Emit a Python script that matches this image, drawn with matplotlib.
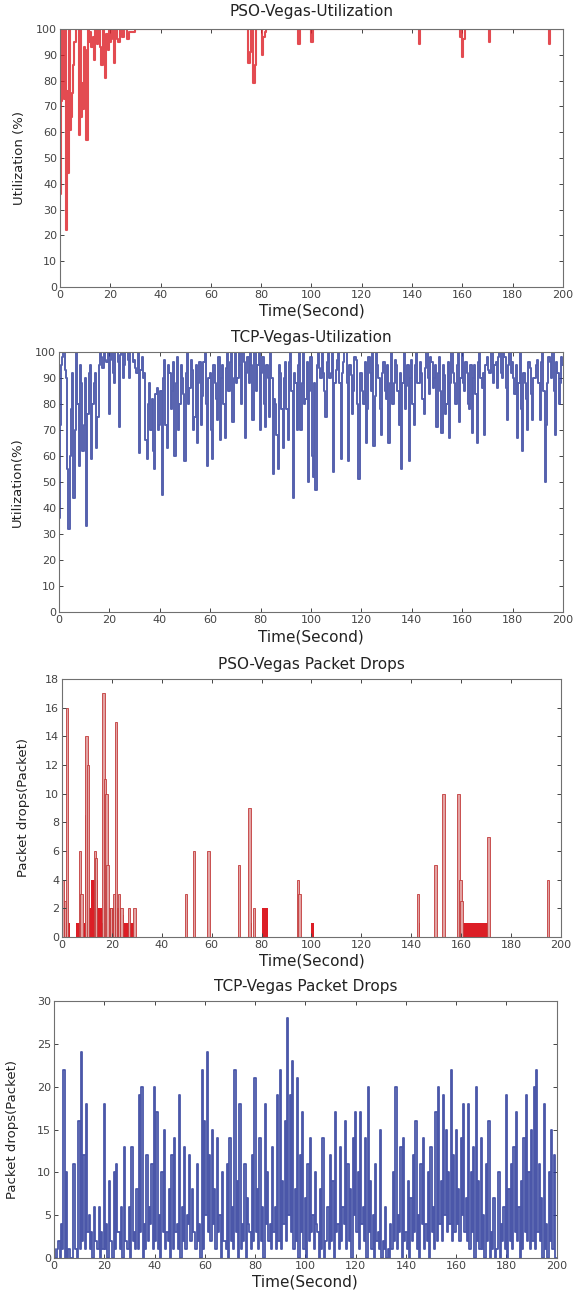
import numpy as np
import matplotlib
matplotlib.use("Agg")
import matplotlib.pyplot as plt

# ---- data ----

# PSO-Vegas utilization: mostly 100 %, dips only at start and a few spots
pso_util_t = [0, 0.3, 0.6, 1.0, 1.3, 1.7, 2.1, 2.5, 2.9, 3.2, 3.6, 4.0, 4.4, 4.9,
              5.4, 6.0, 6.8, 7.3, 7.7, 8.1, 8.4, 8.8, 9.2, 9.7, 10.2, 10.7, 11.2,
              11.7, 12.2, 12.7, 13.2, 13.8, 14.3, 14.8, 15.3, 15.8, 16.3, 16.7,
              17.2, 17.7, 18.2, 18.7, 19.2, 19.7, 20.2, 20.7, 21.2, 21.8, 22.3,
              22.8, 23.5, 24.0, 25, 26, 27.2, 28, 29.3, 30,
              74.5, 75.2, 75.7, 76.2, 77.1, 77.7, 78.3, 80.0, 80.6, 81.2, 81.8, 82.3,
              94.6, 95.1, 95.6, 99.8, 100.2, 100.7,
              142.6, 143.0, 143.5, 158.9, 159.3, 159.7, 160.0, 160.4, 160.8, 161.2,
              170.6, 171.0, 171.4, 194.5, 194.9, 195.3, 200]
pso_util_v = [58, 36, 72, 100, 88, 73, 100, 22, 76, 44, 100, 61, 66, 75,
              86, 95, 100, 100, 59, 100, 66, 79, 69, 93, 92, 57, 100,
              95, 99, 93, 97, 88, 100, 94, 96, 100, 93, 86,
              100, 91, 81, 98, 92, 100, 95, 100, 96, 87, 100,
              96, 95, 100, 97, 100, 96, 99, 99, 100,
              100, 87, 91, 100, 79, 86, 100, 100, 90, 97, 99, 100,
              100, 94, 100, 100, 95, 100,
              100, 94, 100, 100, 97, 100, 89, 96, 96, 100,
              100, 95, 100, 100, 94, 100, 100]

# TCP-Vegas utilization, value at each whole second (0..200)
tcp_util = [36, 95, 100, 90, 32, 78, 44, 100, 56, 88,
            72, 33, 92, 59, 88, 63, 95, 98, 100, 96,
            76, 100, 88, 100, 71, 100, 95, 100, 90, 100,
            97, 92, 61, 98, 92, 59, 88, 82, 55, 86,
            72, 45, 97, 63, 92, 85, 60, 98, 80, 90,
            58, 100, 86, 93, 75, 65, 96, 83, 100, 56,
            92, 59, 88, 74, 66, 95, 67, 100, 96, 73,
            100, 90, 95, 100, 67, 98, 100, 74, 100, 95,
            70, 98, 71, 90, 100, 53, 80, 55, 92, 63,
            96, 66, 100, 44, 88, 95, 70, 100, 82, 50,
            98, 52, 47, 100, 90, 92, 75, 100, 92, 54,
            93, 100, 59, 96, 100, 58, 91, 85, 97, 51,
            92, 80, 65, 98, 85, 64, 100, 90, 68, 96,
            82, 65, 100, 88, 95, 72, 55, 100, 87, 58,
            97, 72, 100, 88, 92, 76, 100, 84, 96, 90,
            71, 98, 69, 91, 80, 67, 100, 88, 95, 73,
            100, 85, 92, 78, 69, 95, 65, 100, 86, 68,
            98, 92, 100, 95, 86, 100, 90, 98, 74, 100,
            96, 84, 67, 100, 62, 88, 70, 94, 74, 90,
            97, 74, 100, 50, 88, 96, 100, 68, 92, 88, 95]
# ... and half a second later (0.5..199.5)
tcp_util_half = [72, 98, 93, 55, 60, 92, 70, 80, 95, 62,
                 90, 76, 95, 80, 92, 75, 100, 94, 97, 100,
                 97, 92, 100, 96, 99, 90, 100, 97, 100, 96,
                 94, 100, 93, 90, 66, 80, 70, 62, 84, 70,
                 85, 90, 72, 95, 78, 96, 88, 70, 95, 84,
                 92, 80, 97, 70, 95, 88, 72, 96, 80, 90,
                 70, 95, 82, 98, 90, 80, 94, 85, 100, 90,
                 88, 100, 80, 96, 92, 88, 95, 100, 85, 100,
                 92, 80, 95, 75, 90, 82, 68, 95, 78, 90,
                 78, 96, 85, 92, 70, 100, 88, 80, 96, 85,
                 60, 88, 95, 94, 100, 85, 96, 90, 100, 88,
                 97, 88, 92, 100, 88, 95, 76, 98, 80, 92,
                 85, 96, 78, 92, 100, 83, 95, 78, 92, 85,
                 95, 88, 80, 97, 85, 92, 88, 78, 95, 90,
                 80, 95, 88, 96, 82, 94, 90, 98, 86, 95,
                 92, 85, 95, 76, 96, 88, 92, 80, 100, 90,
                 88, 96, 80, 95, 90, 84, 96, 90, 92, 95,
                 93, 100, 88, 96, 98, 92, 100, 86, 95, 92,
                 90, 95, 88, 78, 92, 82, 96, 84, 90, 95,
                 88, 96, 85, 72, 98, 90, 85, 96, 80, 98]

# PSO-Vegas packet drops: low filled blocks (step levels) + single spikes
pso_block_t = [0, 3.1, 5.7, 7.7, 8.8, 10.5, 11.8, 14.5, 15.9, 18.5, 23.5, 25, 29.3,
               75.3, 76, 80.2, 82.4, 100, 101.2, 142.9, 143.5, 159.3, 160.6, 171.1, 200]
pso_block_v = [1, 0, 1, 0, 1, 2, 4, 2, 1, 2, 1.5, 1, 0,
               1, 0, 2, 0, 1, 0, 1, 0, 2, 1, 0, 0]
pso_spike_t = [0.3, 1.2, 2.1, 7.3, 7.8, 9.7, 9.8, 10.4, 13.1, 13.5, 16.6, 17.3, 17.8,
               18.2, 19.8, 20.9, 21.7, 23.0, 23.9, 26.9, 29.1, 49.6, 53.0, 58.7,
               70.9, 75.2, 76.9, 94.7, 95.2, 142.7, 149.8, 153.0, 159.0, 159.8,
               160.2, 171.0, 194.8]
pso_spike_v = [4, 2.5, 16, 6, 3, 8.5, 14, 12, 6, 5.5, 17, 11, 10,
               5, 2, 3, 15, 3, 2, 2, 2, 3, 6, 6,
               5, 9, 2, 4, 3, 3, 5, 10, 10, 4,
               2.5, 7, 4]

# TCP-Vegas packet drops: value at each whole second and the dip half a second later
tcp_drop_peak = [1, 0, 2, 4, 22, 10, 1, 0, 11, 1,
                 16, 24, 12, 18, 5, 3, 6, 2, 6, 3,
                 18, 4, 9, 2, 10, 11, 3, 6, 13, 2,
                 6, 13, 3, 8, 19, 20, 4, 12, 6, 11,
                 20, 17, 5, 10, 15, 3, 8, 12, 14, 4,
                 19, 6, 13, 5, 12, 8, 3, 11, 4, 22,
                 16, 24, 12, 15, 8, 14, 5, 10, 2, 11,
                 14, 6, 22, 9, 18, 4, 11, 7, 3, 12,
                 21, 8, 14, 6, 18, 10, 4, 13, 6, 19,
                 22, 9, 16, 28, 19, 23, 8, 21, 12, 17,
                 7, 11, 14, 5, 10, 3, 8, 14, 2, 6,
                 12, 9, 17, 4, 13, 6, 16, 11, 8, 14,
                 17, 10, 17, 6, 14, 20, 9, 5, 11, 3,
                 15, 2, 6, 1, 4, 10, 20, 5, 13, 14,
                 3, 9, 7, 12, 16, 5, 11, 14, 4, 10,
                 13, 6, 17, 20, 9, 19, 15, 10, 22, 12,
                 15, 8, 14, 18, 7, 18, 10, 13, 20, 9,
                 14, 5, 11, 16, 3, 7, 1, 10, 4, 6,
                 19, 8, 11, 13, 17, 6, 9, 14, 19, 10,
                 15, 20, 22, 11, 7, 18, 4, 10, 15, 12]
tcp_drop_low = [0, 1, 0, 1, 0, 0, 0, 0, 1, 0,
                1, 2, 1, 3, 1, 0, 2, 1, 0, 1,
                1, 0, 2, 0, 1, 3, 1, 0, 2, 1,
                0, 2, 1, 1, 3, 0, 1, 2, 4, 1,
                2, 1, 0, 3, 1, 2, 0, 1, 3, 1,
                0, 2, 1, 4, 2, 3, 1, 2, 0, 1,
                5, 3, 2, 4, 1, 3, 0, 2, 1, 0,
                2, 1, 3, 0, 1, 2, 0, 4, 1, 2,
                3, 1, 2, 0, 4, 2, 1, 3, 1, 2,
                1, 4, 2, 5, 3, 1, 2, 0, 3, 1,
                0, 2, 3, 1, 4, 0, 1, 0, 2, 1,
                2, 0, 3, 1, 2, 4, 1, 2, 0, 5,
                3, 1, 4, 2, 0, 3, 1, 0, 2, 1,
                0, 1, 0, 0, 1, 2, 1, 3, 0, 2,
                1, 0, 2, 3, 1, 0, 4, 1, 2, 0,
                3, 1, 2, 4, 2, 5, 3, 4, 2, 3,
                4, 2, 5, 3, 2, 1, 3, 0, 2, 1,
                1, 0, 2, 0, 1, 0, 1, 0, 2, 1,
                0, 2, 1, 3, 2, 0, 1, 3, 2, 1,
                2, 1, 3, 2, 0, 1, 0, 2, 1, 0]

time_ticks = np.arange(0, 201, 20)
RED = '#dc1e26'
BLUE = '#2b3a9a'

plt.rcParams['font.family'] = ['DejaVu Sans']

fig = plt.figure(figsize=(5.74, 12.94), dpi=100)

def mk_axes(rect, ymax, ystep, title, ylabel, ypad, tpad=7):
    ax = fig.add_axes(rect)
    ax.set_xlim(0, 200)
    ax.set_ylim(0, ymax)
    ax.set_xticks(time_ticks)
    ax.set_yticks(np.arange(0, ymax + 1, ystep))
    ax.tick_params(direction='in', top=True, right=True, length=3, width=0.7,
                   colors='#444444', labelsize=8, pad=2)
    for s in ax.spines.values():
        s.set_color('#707070')
        s.set_linewidth(0.8)
    ax.set_title(title, fontsize=11, color='#222222', pad=tpad)
    ax.set_xlabel('Time(Second)', fontsize=11, color='#222222', labelpad=3)
    ax.set_ylabel(ylabel, fontsize=9.5, color='#222222', labelpad=ypad)
    return ax

# 1) PSO-Vegas utilization
ax1 = mk_axes([0.1045, 0.7782, 0.876, 0.1994], 100, 10,
              'PSO-Vegas-Utilization', 'Utilization (%)', 7, tpad=9)
ax1.plot(pso_util_t, pso_util_v, color=RED, lw=1.5, alpha=0.8,
         drawstyle='steps-mid')

# 2) TCP-Vegas utilization
ax2 = mk_axes([0.1028, 0.527, 0.878, 0.201], 100, 10,
              'TCP-Vegas-Utilization', 'Utilization(%)', 8)
t2 = np.arange(0, 200.5, 0.5)
v2 = np.empty(401)
v2[0::2] = tcp_util
v2[1::2] = tcp_util_half
ax2.plot(t2, v2, color=BLUE, lw=1.4, alpha=0.8, drawstyle='steps-mid')

# 3) PSO-Vegas packet drops
ax3 = mk_axes([0.108, 0.2759, 0.869, 0.1994], 18, 2,
              'PSO-Vegas Packet Drops', 'Packet drops(Packet)', 11)
ax3.fill_between(pso_block_t, pso_block_v, step='post', color=RED, lw=0)
ax3.bar(pso_spike_t, pso_spike_v, width=0.9, color='#e3a3a3',
        edgecolor='#c23a3a', linewidth=0.6)

# 4) TCP-Vegas packet drops
ax4 = mk_axes([0.094, 0.0278, 0.876, 0.1986], 30, 5,
              'TCP-Vegas Packet Drops', 'Packet drops(Packet)', 13)
t4 = np.arange(0, 200, 0.5)
v4 = np.empty(400)
v4[0::2] = tcp_drop_peak
v4[1::2] = tcp_drop_low
ax4.plot(t4, v4, color=BLUE, lw=1.3, alpha=0.85, drawstyle='steps-mid')

fig.savefig('out.png', dpi=100)
